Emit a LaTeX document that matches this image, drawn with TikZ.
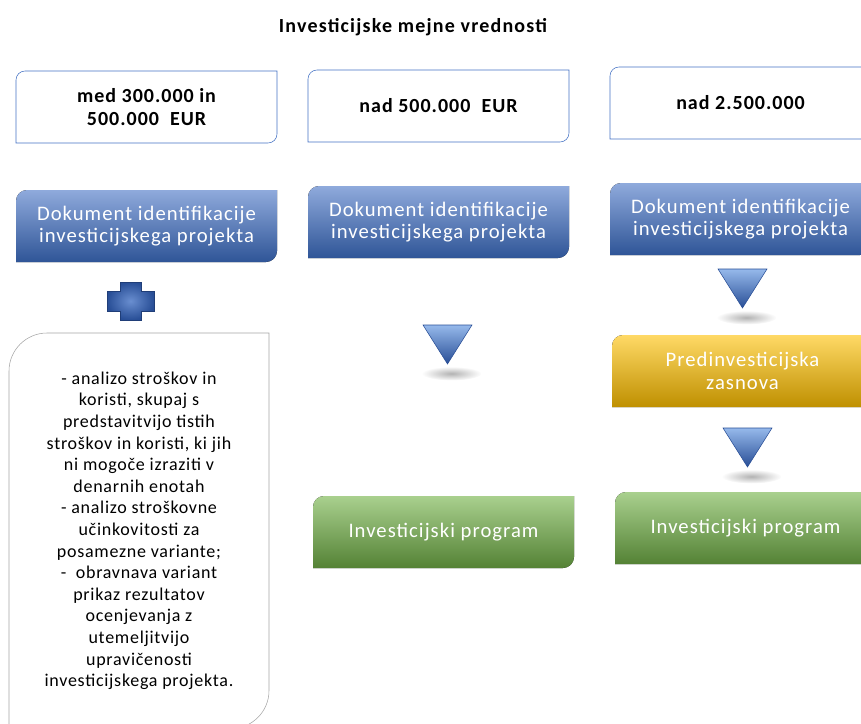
\documentclass[tikz,border=0pt]{standalone}
\usepackage{fontspec}
\setmainfont{Carlito}
\newfontfamily\titlefont[LetterSpace=6]{Carlito}
\newfontfamily\limitfont[LetterSpace=5]{Carlito}
\newfontfamily\stagefont[LetterSpace=5]{Carlito}
\newfontfamily\notefont[LetterSpace=4]{Carlito}
\usetikzlibrary{calc,backgrounds}

\definecolor{limitline}{RGB}{68,114,196}
\definecolor{noteline}{RGB}{165,165,165}
\definecolor{dokTop}{RGB}{143,170,220}
\definecolor{dokMid}{RGB}{68,114,196}
\definecolor{dokBot}{RGB}{47,85,151}
\definecolor{predTop}{RGB}{255,217,102}
\definecolor{predMid}{RGB}{255,192,0}
\definecolor{predBot}{RGB}{191,144,0}
\definecolor{progTop}{RGB}{169,208,142}
\definecolor{progMid}{RGB}{112,173,71}
\definecolor{progBot}{RGB}{84,130,53}
\definecolor{triTop}{RGB}{150,185,235}
\definecolor{triBot}{RGB}{40,78,150}

\tikzset{every picture/.style={line width=0.75pt}}
\tikzset{
  titletext/.style={font=\titlefont\bfseries\fontsize{15}{18}\selectfont},
  limitbox/.style={anchor=north west, minimum width=195pt, minimum height=53.25pt, inner sep=0pt, align=center, font=\limitfont\bfseries\fontsize{15}{17.5}\selectfont},
  stagebox/.style={anchor=north west, minimum width=195pt, minimum height=53.25pt, inner sep=0pt, align=center, text=white, font=\stagefont\fontsize{15.5}{17}\selectfont},
  notebox/.style={anchor=north west, minimum width=194.25pt, minimum height=296pt, inner sep=0pt, align=center, font=\notefont\fontsize{13.5}{16.2}\selectfont},
  dokfill/.style={top color=dokTop, middle color=dokMid, bottom color=dokBot},
  predfill/.style={top color=predTop, middle color=predMid, bottom color=predBot},
  progfill/.style={top color=progTop, middle color=progMid, bottom color=progBot},
  trifill/.style={top color=triTop, bottom color=triBot, draw=triBot, line width=0.4pt},
  plusfill/.style={inner color=dokMid!80!white, outer color=triBot, draw=triBot!80!black, line width=0.6pt}
}

% box with rounded top left and bottom right corners
\newcommand\tabpath[2]{(#1.south west) -- ($(#1.north west)+(0,#2)$) .. controls ($(#1.north west)+(0,0.45*#2)$) and ($(#1.north west)+(0.45*#2,0)$) .. ($(#1.north west)+(#2,0)$) -- (#1.north east) -- ($(#1.south east)+(0,-#2)$) .. controls ($(#1.south east)+(0,-0.45*#2)$) and ($(#1.south east)+(-0.45*#2,0)$) .. ($(#1.south east)+(-#2,0)$) -- cycle}

% downward triangle with its shadow
\newcommand\downhead[1]{%
  \shade[inner color=black!30, outer color=white] ($(#1)+(4,29)$) ellipse (30 and 7);
  \draw[trifill, shift={(#1)}] (-24.5,-19.5) -- (24.5,-19.5) -- (0,19.5) -- cycle;}

\begin{document}
\begin{tikzpicture}[x=0.75pt,y=0.75pt,yscale=-1,xscale=1]
\useasboundingbox (0,0) rectangle (861,724);

% Title
\node[titletext] (title) at (413,27) {Investicijske mejne vrednosti};

% Limits
\node[limitbox] (lim1) at (16,71) {med 300.000 in\\500.000\ \ EUR};
\node[limitbox] (lim2) at (308,70) {nad 500.000\ \ EUR};
\node[limitbox] (lim3) at (610,67) {nad 2.500.000};

% Stages
\node[stagebox] (dok1) at (16,190) {Dokument identifikacije\\investicijskega projekta};
\node[stagebox] (dok2) at (308,186) {Dokument identifikacije\\investicijskega projekta};
\node[stagebox] (dok3) at (610,183) {Dokument identifikacije\\investicijskega projekta};
\node[stagebox] (pred3) at (612,335) {Predinvesticijska\\zasnova};
\node[stagebox] (prog2) at (313,496) {Investicijski program};
\node[stagebox] (prog3) at (615,492) {Investicijski program};

% Notes
\node[notebox] (notes1) at (9,333) {- analizo stroškov in\\koristi, skupaj s\\predstavitvijo tistih\\stroškov in koristi, ki jih\\ni mogoče izraziti v\\denarnih enotah\\- analizo stroškovne\\učinkovitosti za\\posamezne variante;\\-~~obravnava variant\\prikaz rezultatov\\ocenjevanja z\\utemeljitvijo\\upravičenosti\\investicijskega projekta.};

% Arrow heads
\coordinate (tri2) at (447.5,344.5);
\coordinate (tri3a) at (742.5,288.5);
\coordinate (tri3b) at (747.5,447.5);
\downhead{tri2}
\downhead{tri3a}
\downhead{tri3b}

% Plus
\coordinate (plus) at (130.5,301);
\draw[plusfill, shift={(plus)}] (-10.5,-19) -- (10.5,-19) -- (10.5,-10) -- (23.5,-10) -- (23.5,10) -- (10.5,10) -- (10.5,19) -- (-10.5,19) -- (-10.5,10) -- (-23.5,10) -- (-23.5,-10) -- (-10.5,-10) -- cycle;

\begin{scope}[on background layer]
\draw[limitline, fill=white] \tabpath{lim1}{9};
\draw[limitline, fill=white] \tabpath{lim2}{9};
\draw[limitline, fill=white] \tabpath{lim3}{9};
\fill[dokfill] \tabpath{dok1}{11};
\fill[dokfill] \tabpath{dok2}{11};
\fill[dokfill] \tabpath{dok3}{11};
\fill[predfill] \tabpath{pred3}{11};
\fill[progfill] \tabpath{prog2}{11};
\fill[progfill] \tabpath{prog3}{11};
\draw[noteline, fill=white] \tabpath{notes1}{38};
\end{scope}

\end{tikzpicture}
\end{document}
